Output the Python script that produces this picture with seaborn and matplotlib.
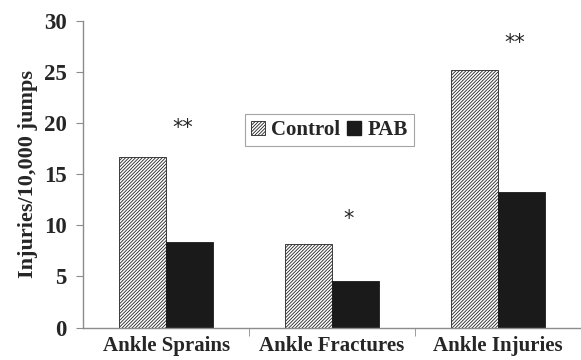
import pandas as pd
import matplotlib
matplotlib.use("Agg")
import matplotlib.pyplot as plt
import seaborn as sns
from matplotlib.patches import Patch

# Data
categories = ["Ankle Sprains", "Ankle Fractures", "Ankle Injuries"]
groups = ["Control", "PAB"]
control_vals = [16.7, 8.15, 25.2]
pab_vals = [8.4, 4.55, 13.2]
stars = ["**", "*", "**"]
star_y = [19.5, 10.6, 27.8]
y_ticks = [0, 5, 10, 15, 20, 25, 30]

df = pd.DataFrame({
    "Category": categories * 2,
    "Group": [groups[0]] * 3 + [groups[1]] * 3,
    "Rate": control_vals + pab_vals,
})

sns.set_style("white")
plt.rcParams["font.family"] = ["Liberation Serif", "DejaVu Serif"]
plt.rcParams["font.weight"] = "bold"
plt.rcParams["hatch.linewidth"] = 0.6

fig = plt.figure(figsize=(5.81, 3.6), dpi=100)
ax = fig.add_axes([0.143, 0.09, 0.857, 0.853])

sns.barplot(data=df, x="Category", y="Rate", hue="Group", order=categories,
            hue_order=groups, palette=["white", "#1a1a1a"], width=0.57,
            edgecolor="#1a1a1a", linewidth=0.6, saturation=1, ax=ax, legend=False)

# hatch the control bars
for bar in ax.containers[0]:
    bar.set_hatch("//////////")
    bar.set_edgecolor("#222222")

# significance markers
for i, (s, yv) in enumerate(zip(stars, star_y)):
    ax.text(i + 0.1, yv, s, ha="center", va="center", fontsize=15, fontweight="normal",
            family="DejaVu Sans")

ax.set_xlim(-0.5, 2.5)
ax.set_ylim(0, 30)
ax.set_yticks(y_ticks)
ax.set_ylabel("Injuries/10,000 jumps", fontsize=16, fontweight="bold", labelpad=4)
ax.set_xlabel("")

for side in ["top", "right"]:
    ax.spines[side].set_visible(False)
for side in ["left", "bottom"]:
    ax.spines[side].set_color("#8c8c8c")
    ax.spines[side].set_linewidth(1.0)

ax.set_xticks([0.5, 1.5], minor=True)
ax.tick_params(axis="x", which="major", length=0, pad=6, labelsize=15)
ax.tick_params(axis="x", which="minor", length=6, color="#8c8c8c", direction="out", bottom=True)
ax.tick_params(axis="y", which="major", length=5, color="#8c8c8c", direction="out", left=True,
               pad=7, labelsize=16.5)
for lbl in ax.get_xticklabels() + ax.get_yticklabels():
    lbl.set_fontweight("bold")

handles = [Patch(facecolor="white", edgecolor="#222222", hatch="//////////", linewidth=0.6),
           Patch(facecolor="#1a1a1a", edgecolor="#1a1a1a")]
leg = ax.legend(handles, groups, loc="upper left", bbox_to_anchor=(0.325, 0.696),
                borderaxespad=0, frameon=True, fancybox=False, handlelength=0.65,
                handleheight=0.65, handletextpad=0.3, columnspacing=0.35, ncol=2,
                prop={"weight": "bold", "size": 15}, borderpad=0.3)
leg.get_frame().set_edgecolor("#8c8c8c")
leg.get_frame().set_linewidth(0.8)

fig.savefig("out.png", dpi=100)
